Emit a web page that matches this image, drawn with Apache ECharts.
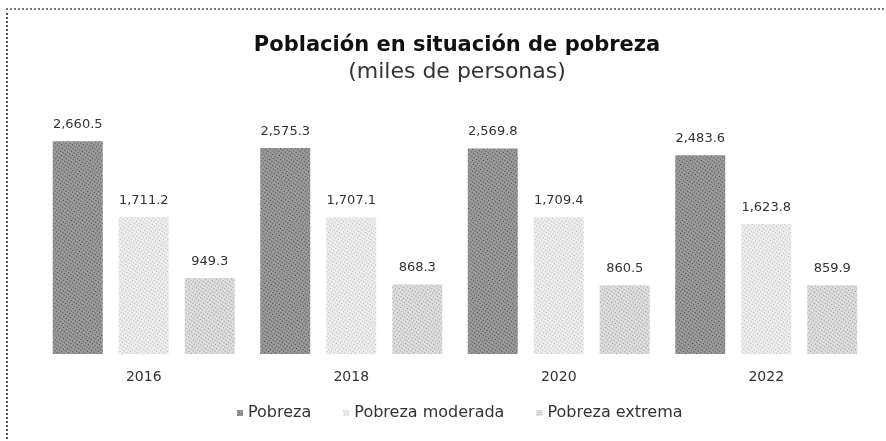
<!DOCTYPE html>
<html>
<head>
<meta charset="utf-8">
<script src="https://cdn.jsdelivr.net/npm/echarts@6/dist/echarts.min.js"></script>
<style>
  html, body { margin: 0; padding: 0; background: #fff; }
  #frame { position: absolute; left: 6px; top: 8px; width: 880px; height: 433px;
           border-left: 2px dotted #555; border-top: 2px dotted #777; }
  #chart { width: 886px; height: 441px; }
</style>
</head>
<body>
<div id="frame"></div>
<div id="chart"></div>
<script>
var years = ['2016', '2018', '2020', '2022'];
var pobreza = [2660.5, 2575.3, 2569.8, 2483.6];
var moderada = [1711.2, 1707.1, 1709.4, 1623.8];
var extrema = [949.3, 868.3, 860.5, 859.9];

var chartDom = document.getElementById('chart');
var myChart = echarts.init(chartDom);
var option;

var font = 'DejaVu Sans';

function fmt(p) {
    return p.value.toLocaleString('en-US', { minimumFractionDigits: 1, maximumFractionDigits: 1 });
}

function dots(bg, dot) {
    return {
        color: bg,
        decal: {
            symbol: 'rect',
            symbolSize: 1,
            color: dot,
            dashArrayX: [1, 2],
            dashArrayY: [1, 2],
            rotation: 0.6
        }
    };
}

var label = {
    show: true,
    position: 'top',
    distance: 10,
    formatter: fmt,
    fontFamily: font,
    fontSize: 13,
    color: '#333'
};

option = {
    animation: false,
    textStyle: { fontFamily: font },
    title: {
        text: 'Población en situación de pobreza',
        subtext: '(miles de personas)',
        left: 452,
        textAlign: 'center',
        top: 30,
        itemGap: 5,
        textStyle: { fontFamily: font, fontWeight: 'bold', fontSize: 21, color: '#111' },
        subtextStyle: { fontFamily: font, fontSize: 22, color: '#333' }
    },
    legend: {
        bottom: 15,
        left: 232,
        itemWidth: 6,
        itemHeight: 6,
        itemGap: 32,
        icon: 'rect',
        textStyle: { fontFamily: font, fontSize: 16, color: '#333' }
    },
    grid: { left: 40, right: 16, top: 114, bottom: 87 },
    xAxis: {
        type: 'category',
        data: years,
        axisLine: { show: false },
        axisTick: { show: false },
        axisLabel: { margin: 16, fontSize: 14, color: '#333', fontFamily: font }
    },
    yAxis: {
        type: 'value',
        min: 0,
        max: 3000,
        show: false
    },
    series: [
        {
            name: 'Pobreza',
            type: 'bar',
            barWidth: 50,
            barGap: '32%',
            data: pobreza,
            label: label,
            itemStyle: dots('#989898', 'rgba(30,30,30,0.6)')
        },
        {
            name: 'Pobreza moderada',
            type: 'bar',
            barWidth: 50,
            barGap: '32%',
            data: moderada,
            label: label,
            itemStyle: dots('#ececec', 'rgba(90,90,90,0.35)')
        },
        {
            name: 'Pobreza extrema',
            type: 'bar',
            barWidth: 50,
            barGap: '32%',
            data: extrema,
            label: label,
            itemStyle: dots('#dcdcdc', 'rgba(80,80,80,0.45)')
        }
    ]
};

option && myChart.setOption(option);
</script>
</body>
</html>
